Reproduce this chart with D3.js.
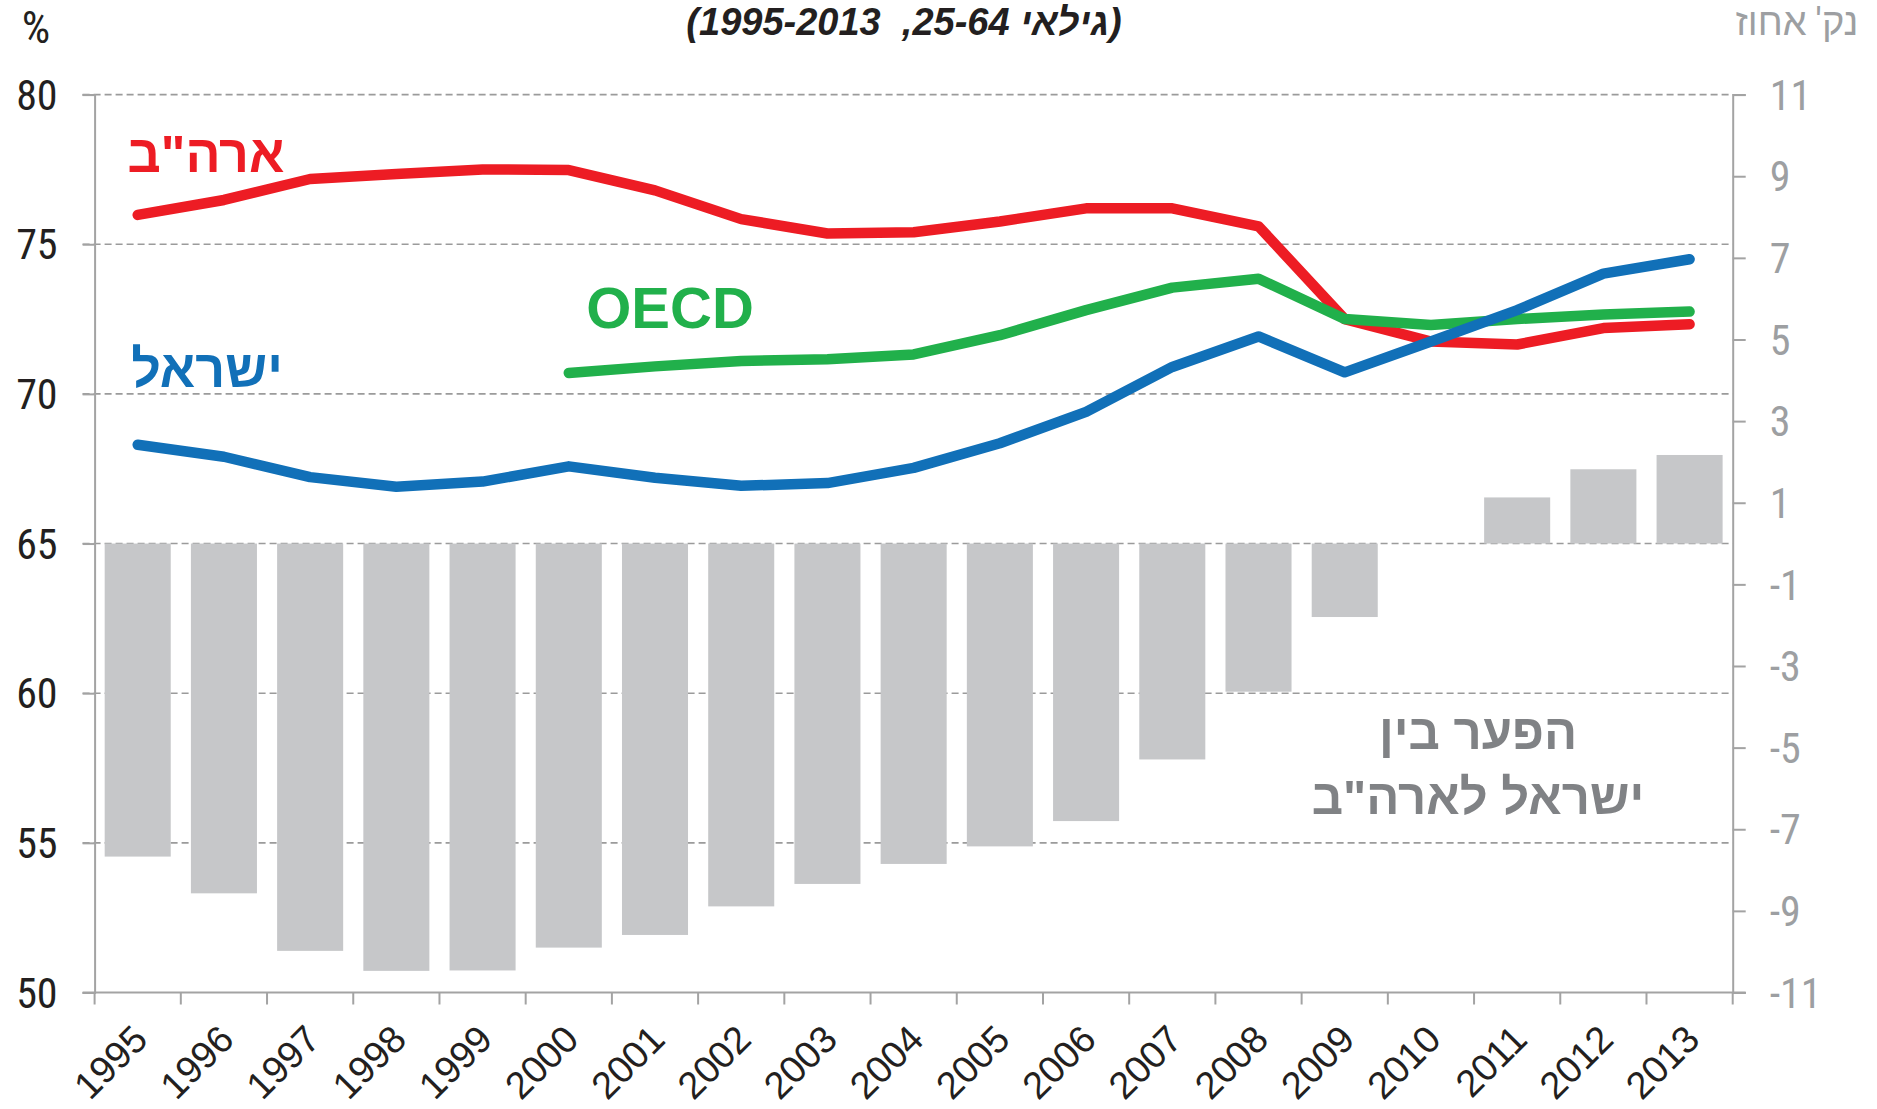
<!DOCTYPE html>
<html>
<head>
<meta charset="utf-8">
<script src="https://cdn.jsdelivr.net/npm/d3@7"></script>
<style>
  html, body { margin: 0; padding: 0; background: #fff; }
  svg { display: block; }
  text { white-space: pre; }
</style>
</head>
<body>
<svg id="chart" width="1877" height="1109"></svg>
<script>
// ---- data ----
const years = ["1995","1996","1997","1998","1999","2000","2001","2002","2003","2004","2005","2006","2007","2008","2009","2010","2011","2012","2013"];
const usa = [75.98, 76.48, 77.18, 77.35, 77.5, 77.48, 76.8, 75.84, 75.36, 75.4, 75.76, 76.2, 76.2, 75.6, 72.5, 71.75, 71.65, 72.2, 72.33];
const israel = [68.3, 67.9, 67.22, 66.9, 67.07, 67.58, 67.2, 66.93, 67.02, 67.53, 68.35, 69.4, 70.9, 71.92, 70.72, 71.75, 72.8, 74.02, 74.5];
const oecd = [null, null, null, null, null, 70.7, 70.92, 71.1, 71.16, 71.32, 71.96, 72.8, 73.55, 73.85, 72.5, 72.3, 72.5, 72.65, 72.75];
const gap = [-7.67, -8.57, -9.98, -10.47, -10.46, -9.9, -9.59, -8.89, -8.34, -7.85, -7.42, -6.8, -5.29, -3.63, -1.8, 0, 1.13, 1.82, 2.17];
const leftTicks = [50, 55, 60, 65, 70, 75, 80];
const rightTicks = [11, 9, 7, 5, 3, 1, -1, -3, -5, -7, -9, -11];

const titleText = "(גילאי 25-64,  1995-2013)";
const leftUnit = "%";
const rightUnit = "נק' אחוז";
const labelUSA = "ארה\"ב";
const labelIsrael = "ישראל";
const labelOECD = "OECD";
const gapLabel = ["הפער בין", "ישראל לארה\"ב"];

// ---- layout ----
const svg = d3.select("#chart");
const L = 94.6, R = 1732.7, T = 94.6, B = 992.5;
const numFont = "'Liberation Sans Narrow', 'Arial Narrow', 'Roboto Condensed', 'Liberation Sans', sans-serif";
const sansFont = "'Liberation Sans', Arial, 'DejaVu Sans', sans-serif";
const gridColor = "#9b9b9b";
const axisColor = "#a3a3a3";

const x = d3.scaleBand().domain(years).range([L, R]).paddingInner(0).paddingOuter(0);
const yL = d3.scaleLinear().domain([50, 80]).range([B, T]);
const yR = d3.scaleLinear().domain([-11, 11]).range([B, T]);

// gridlines (dashed)
svg.append("g").selectAll("line").data(leftTicks.filter(d => d > 50)).join("line")
  .attr("x1", L - 12).attr("x2", R).attr("y1", d => yL(d)).attr("y2", d => yL(d))
  .attr("stroke", gridColor).attr("stroke-width", 1.6).attr("stroke-dasharray", "7,4");

// bars
const barW = x.bandwidth() * 0.766;
svg.append("g").selectAll("rect").data(years).join("rect")
  .attr("x", d => x(d) + (x.bandwidth() - barW) / 2)
  .attr("width", barW)
  .attr("y", (d, i) => Math.min(yR(gap[i]), yR(0)))
  .attr("height", (d, i) => Math.abs(yR(gap[i]) - yR(0)))
  .attr("fill", "#c6c7c9");

// left axis
const gL = svg.append("g").attr("transform", `translate(${L},0)`)
  .call(d3.axisLeft(yL).tickValues(leftTicks).tickSize(12).tickPadding(25).tickFormat(d => String(d)));
gL.select(".domain").attr("stroke", axisColor).attr("stroke-width", 2);
gL.selectAll(".tick line").attr("stroke", axisColor).attr("stroke-width", 2);
gL.selectAll(".tick text").attr("font-family", numFont).attr("font-size", 42).attr("fill", "#231f20").attr("dy", "0.35em");

// right axis
const gR = svg.append("g").attr("transform", `translate(${R},0)`)
  .call(d3.axisRight(yR).tickValues(rightTicks).tickSize(13).tickPadding(24).tickFormat(d => String(d)));
gR.select(".domain").attr("stroke", axisColor).attr("stroke-width", 2);
gR.selectAll(".tick line").attr("stroke", axisColor).attr("stroke-width", 2);
gR.selectAll(".tick text").attr("font-family", numFont).attr("font-size", 42).attr("fill", "#9d9fa2").attr("dy", "0.35em");

// bottom axis
const gB = svg.append("g").attr("transform", `translate(0,${B})`);
gB.append("line").attr("x1", L - 12).attr("x2", R + 13).attr("y1", 0).attr("y2", 0)
  .attr("stroke", axisColor).attr("stroke-width", 2);
const edges = years.map(d => x(d)).concat([R]);
gB.selectAll("line.tk").data(edges).join("line").attr("class", "tk")
  .attr("x1", d => d).attr("x2", d => d).attr("y1", 0).attr("y2", 12)
  .attr("stroke", axisColor).attr("stroke-width", 2);
gB.selectAll("text").data(years).join("text")
  .attr("transform", d => `translate(${x(d) + x.bandwidth() / 2 + 12},49) rotate(-45)`)
  .attr("text-anchor", "end")
  .attr("font-family", sansFont).attr("font-size", 38).attr("fill", "#231f20")
  .text(d => d);

// lines
const line = d3.line().defined(d => d[1] != null)
  .x(d => x(d[0]) + x.bandwidth() / 2).y(d => yL(d[1]));
const series = [
  { vals: usa, color: "#ed1c24" },
  { vals: oecd, color: "#21b04b" },
  { vals: israel, color: "#1170b8" }
];
svg.append("g").selectAll("path").data(series).join("path")
  .attr("d", s => line(years.map((y, i) => [y, s.vals[i]])))
  .attr("fill", "none").attr("stroke", s => s.color).attr("stroke-width", 10.5)
  .attr("stroke-linecap", "round").attr("stroke-linejoin", "round");

// texts
svg.append("text").attr("x", 904).attr("y", 35).attr("text-anchor", "middle")
  .attr("direction", "rtl").style("direction", "rtl")
  .attr("font-family", sansFont).attr("font-size", 38).attr("font-weight", "bold").attr("font-style", "italic")
  .attr("fill", "#231f20").text(titleText);
svg.append("text").attr("x", 36).attr("y", 43).attr("text-anchor", "middle")
  .attr("font-family", numFont).attr("font-size", 45).attr("fill", "#231f20").text(leftUnit);
svg.append("text").attr("x", 1797).attr("y", 35).attr("text-anchor", "middle")
  .style("direction", "rtl")
  .attr("font-family", numFont).attr("font-size", 38).attr("fill", "#9d9fa2").text(rightUnit);

svg.append("text").attr("x", 206).attr("y", 172).attr("text-anchor", "middle").style("direction", "rtl")
  .attr("font-family", sansFont).attr("font-size", 52).attr("font-weight", "bold").attr("fill", "#ed1c24").text(labelUSA);
svg.append("text").attr("x", 207).attr("y", 387).attr("text-anchor", "middle").style("direction", "rtl")
  .attr("font-family", sansFont).attr("font-size", 52).attr("font-weight", "bold").attr("fill", "#1170b8").text(labelIsrael);
svg.append("text").attr("x", 670).attr("y", 328).attr("text-anchor", "middle")
  .attr("font-family", sansFont).attr("font-size", 58).attr("font-weight", "bold").attr("fill", "#21b04b").text(labelOECD);
svg.append("g").selectAll("text").data(gapLabel).join("text")
  .attr("x", 1478).attr("y", (d, i) => 749 + i * 65).attr("text-anchor", "middle").style("direction", "rtl")
  .attr("font-family", sansFont).attr("font-size", 49).attr("font-weight", "bold").attr("fill", "#808285").text(d => d);
</script>
</body>
</html>
